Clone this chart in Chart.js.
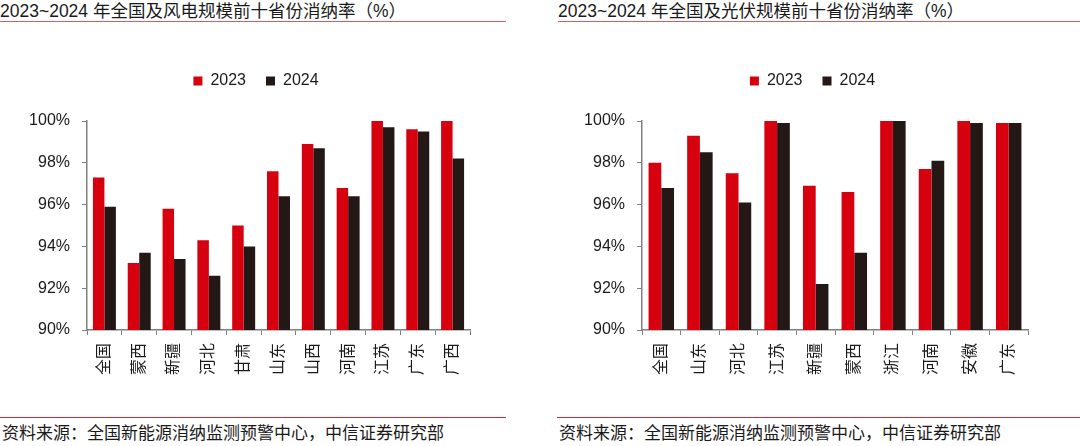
<!DOCTYPE html>
<html>
<head>
<meta charset="utf-8">
<script src="https://cdn.jsdelivr.net/npm/chart.js@4.4.1/dist/chart.umd.min.js"></script>
<style>
  html, body { margin: 0; padding: 0; background: #fff; }
  body { width: 1080px; height: 446px; position: relative; overflow: hidden;
         font-family: "Liberation Sans", "Noto Sans CJK SC", sans-serif; color: #1a1a1a; }
  .title { position: absolute; top: 1px; font-size: 17.5px; line-height: 20px; white-space: nowrap; color: #1a1a1a; }
  .tline { position: absolute; top: 21px; height: 0; border-top: 1px solid #e05a5a; }
  .bline { position: absolute; top: 417px; height: 0; border-top: 1px solid #e0282e; }
  .src { position: absolute; top: 424px; font-size: 17px; line-height: 20px; white-space: nowrap; color: #1a1a1a; }
  .cv { position: absolute; }
</style>
</head>
<body>
<div class="title" style="left:0px;">2023~2024 年全国及风电规模前十省份消纳率（%）</div>
<div class="tline" style="left:0px;width:506px;"></div>
<div class="title" style="left:558px;">2023~2024 年全国及光伏规模前十省份消纳率（%）</div>
<div class="tline" style="left:558px;width:522px;"></div>

<div class="cv" style="left:0px;top:53px;width:512px;height:360px;"><canvas id="c1"></canvas></div>
<div class="cv" style="left:545px;top:53px;width:535px;height:360px;"><canvas id="c2"></canvas></div>

<div class="bline" style="left:0px;width:506px;"></div>
<div class="bline" style="left:557px;width:523px;"></div>
<div class="src" style="left:2px;">资料来源：全国新能源消纳监测预警中心，中信证券研究部</div>
<div class="src" style="left:559px;">资料来源：全国新能源消纳监测预警中心，中信证券研究部</div>

<script>
// ---- data ----
const seriesNames = ['2023', '2024'];
const windCategories = ['全国', '蒙西', '新疆', '河北', '甘肃', '山东', '山西', '河南', '江苏', '广东', '广西'];
const wind2023 = [97.3, 93.2, 95.8, 94.3, 95.0, 97.6, 98.9, 96.8, 100.0, 99.6, 100.0];
const wind2024 = [95.9, 93.7, 93.4, 92.6, 94.0, 96.4, 98.7, 96.4, 99.7, 99.5, 98.2];
const pvCategories = ['全国', '山东', '河北', '江苏', '新疆', '蒙西', '浙江', '河南', '安徽', '广东'];
const pv2023 = [98.0, 99.3, 97.5, 100.0, 96.9, 96.6, 100.0, 97.7, 100.0, 99.9];
const pv2024 = [96.8, 98.5, 96.1, 99.9, 92.2, 93.7, 100.0, 98.1, 99.9, 99.9];
const yMin = 90, yMax = 100, yStep = 2;

const RED = '#d7000f';
const DARK = '#231815';
const AXIS = '#808080';
const FONT = '"Liberation Sans", "Noto Sans CJK SC", sans-serif';

function makeChart(id, cats, a, b, yWidth, rightWidth) {
  return new Chart(document.getElementById(id), {
    type: 'bar',
    data: {
      labels: cats,
      datasets: [
        { label: seriesNames[0], data: a, backgroundColor: RED, borderWidth: 0 },
        { label: seriesNames[1], data: b, backgroundColor: DARK, borderWidth: 0 }
      ]
    },
    options: {
      responsive: true,
      maintainAspectRatio: false,
      animation: false,
      categoryPercentage: 0.66,
      barPercentage: 1.0,
      layout: { padding: 0 },
      plugins: {
        legend: {
          position: 'top',
          labels: {
            boxWidth: 9, boxHeight: 9, padding: 20,
            color: '#1a1a1a',
            font: { family: FONT, size: 16 }
          }
        },
        tooltip: { enabled: false }
      },
      scales: {
        x: {
          grid: { display: true, drawOnChartArea: false, drawTicks: true, tickLength: 5, color: AXIS, offset: true },
          border: { display: true, color: AXIS, width: 1.5 },
          ticks: {
            minRotation: 90, maxRotation: 90, autoSkip: false, padding: 8,
            color: '#1a1a1a', font: { family: FONT, size: 16 }
          },
          afterFit(s) { s.height = 83; }
        },
        xTop: {
          position: 'top', display: true, type: 'category',
          grid: { display: false }, border: { display: false },
          ticks: { display: false },
          afterFit(s) { s.height = 22; }
        },
        y: {
          min: yMin, max: yMax,
          grid: { display: true, drawOnChartArea: false, drawTicks: true, tickLength: 5, color: AXIS },
          border: { display: true, color: AXIS, width: 1.5 },
          ticks: {
            stepSize: yStep, padding: 12,
            color: '#1a1a1a', font: { family: FONT, size: 16 },
            callback: v => v + '%'
          },
          afterFit(s) { s.width = yWidth; }
        },
        yR: {
          position: 'right', display: true,
          grid: { display: false }, border: { display: false },
          ticks: { display: false },
          afterFit(s) { s.width = rightWidth; }
        }
      }
    }
  });
}

makeChart('c1', windCategories, wind2023, wind2024, 87, 42);
makeChart('c2', pvCategories, pv2023, pv2024, 97, 52);
</script>
</body>
</html>
